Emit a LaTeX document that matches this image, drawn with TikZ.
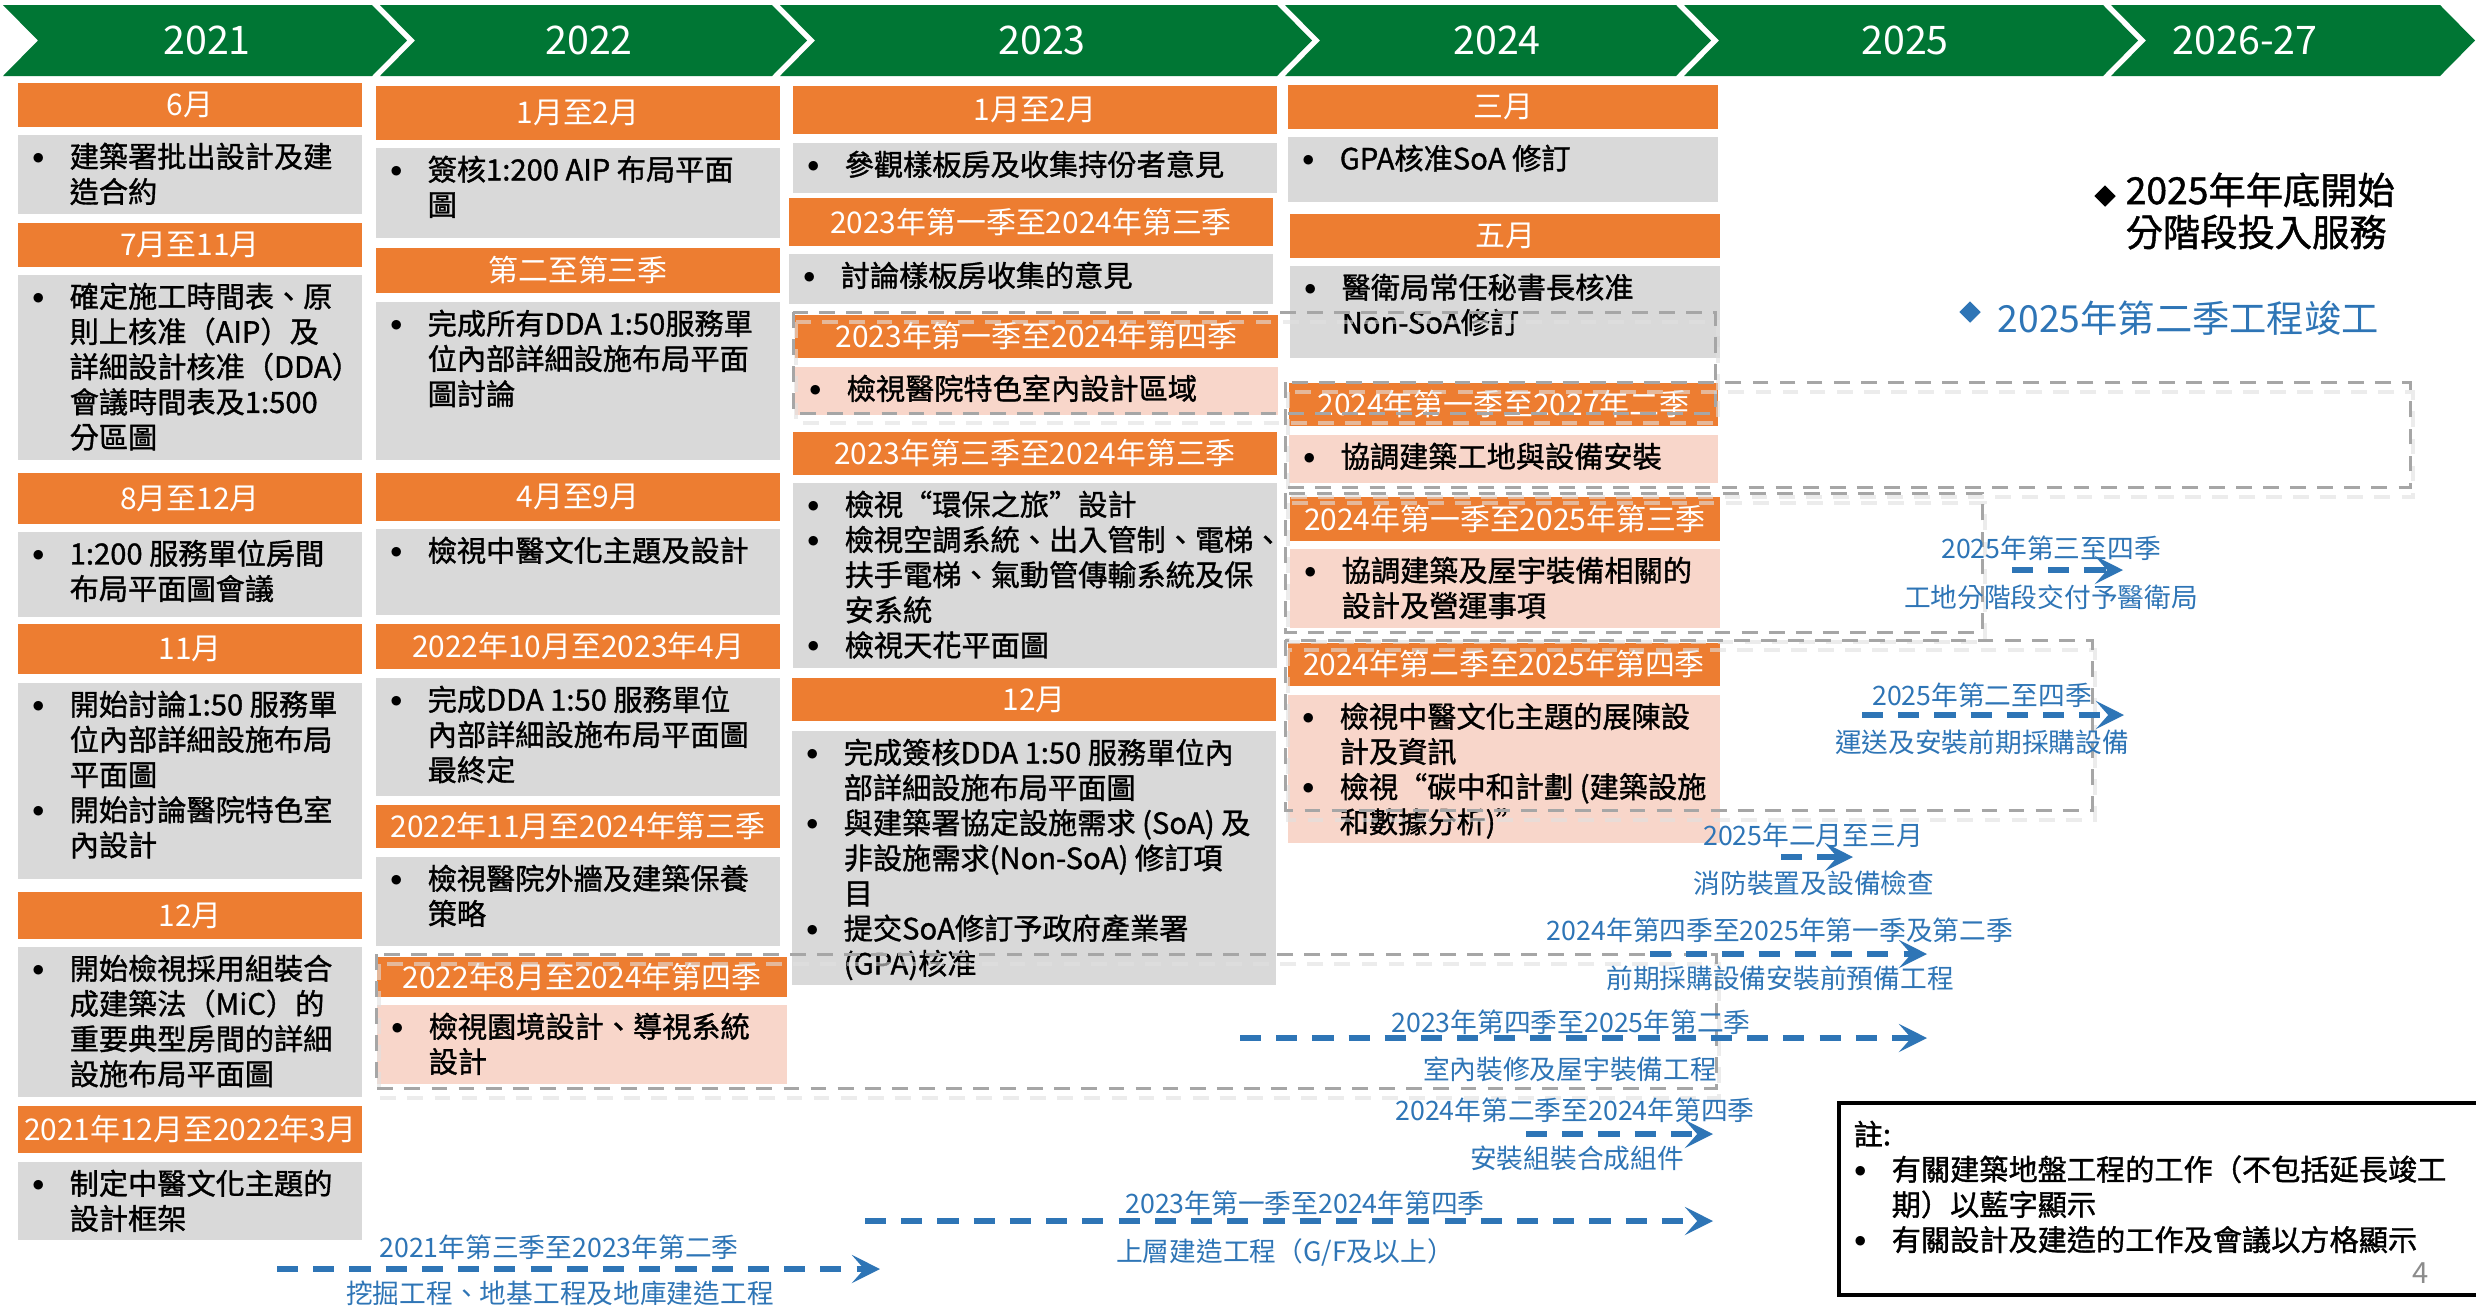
\documentclass[tikz,border=0pt]{standalone}
\usepackage{fontspec}
\setmainfont{Noto Sans CJK TC}
\newfontfamily\bodyfam{Noto Sans CJK TC}[FakeBold=1.2]
\usetikzlibrary{arrows.meta,fit,shapes.geometric}

\definecolor{yrgreen}{RGB}{0,118,52}
\definecolor{hdorange}{RGB}{237,125,49}
\definecolor{pgray}{RGB}{217,217,217}
\definecolor{ppink}{RGB}{248,214,202}
\definecolor{flowblue}{RGB}{46,117,182}
\definecolor{dashgray}{RGB}{166,166,166}

\newcommand{\bxfont}{\bodyfam\fontsize{8.3pt}{10pt}\selectfont}
\newcommand{\hdfont}{\fontsize{8.5pt}{10pt}\selectfont}
\newcommand{\yrfont}{\fontsize{11.2pt}{13pt}\selectfont}
\newcommand{\flfont}{\fontsize{7.6pt}{9pt}\selectfont}
\newcommand{\bigfont}{\bodyfam\fontsize{10.6pt}{12pt}\selectfont}
\newcommand{\bu}{\makebox[0.38cm][l]{\raisebox{1.2pt}{$\scriptstyle\bullet$}}}
\newcommand{\ind}{\hspace*{0.38cm}}
\newcommand{\oq}{\makebox[1em][r]{“}}
\newcommand{\cq}{\makebox[1em][l]{”}}

\begin{document}
\begin{tikzpicture}[x=0.01cm,y=-0.01cm,
  yr/.style={text=white,font=\yrfont,inner sep=0pt},
  hdr/.style={fill=hdorange,inner sep=0pt},
  hdtxt/.style={text=white,font=\hdfont,inner sep=0pt},
  panel/.style={inner sep=0pt},
  bx/.style={anchor=north west,inner sep=0pt,align=left,font=\bxfont},
  dbox/.style={draw=dashgray,line width=0.85pt,dash pattern=on 4.5pt off 3.2pt},
  dshadow/.style={draw=black!12,line width=1.4pt,dash pattern=on 4.5pt off 3.2pt,opacity=.6},
  flow/.style={draw=flowblue,line width=1.7pt,dash pattern=on 6pt off 4.3pt,
    -{Stealth[length=8pt,width=8pt,inset=3.5pt]}},
  fltxt/.style={text=flowblue,font=\flfont,inner sep=0pt}]

\path[use as bounding box,fill=white] (0,0) rectangle (2476,1305);

% year chevrons
\foreach \i/\xl/\xr/\lx/\yr in {1/-1/376/207/2021,2/376/776/589/2022,3/776/1281/1042/2023,
  4/1281/1680/1497/2024,5/1680/2107/1905/2025,6/2107/2444/2245/2026-27}
{
  \fill[yrgreen] (\xl+4,5) -- (\xr-4,5) -- (\xr+31,40.5) -- (\xr-4,76) -- (\xl+4,76) -- (\xl+39,40.5) -- cycle;
  \node[yr] (yr\i) at (\lx,40.5) {\yr};
}

% orange headers
\foreach \n/\xa/\ya/\xb/\yb/\txt in {
  h1a/18/83/362/127/6月, h1b/18/223/362/267/7月至11月, h1c/18/473/362/524/8月至12月,
  h1d/18/624/362/674/11月, h1e/18/892/362/939/12月, h1f/18/1106/362/1153/2021年12月至2022年3月,
  h2a/376/86/780/140/1月至2月, h2b/376/248/780/293/第二至第三季, h2c/376/473/780/521/4月至9月,
  h2d/376/624/780/669/2022年10月至2023年4月, h2e/376/805/780/848/2022年11月至2024年第三季,
  h2f/377/957/787/997/2022年8月至2024年第四季,
  h3a/793/86/1277/134/1月至2月, h3b/789/198/1273/246/2023年第一季至2024年第三季,
  h3c/795/315/1278/358/2023年第一季至2024年第四季, h3d/793/432/1277/475/2023年第三季至2024年第三季,
  h3e/792/678/1276/721/12月,
  h4a/1288/85/1718/129/三月, h4b/1290/214/1720/258/五月, h4c/1289/383/1718/426/2024年第一季至2027年二季,
  h4d/1290/497/1720/541/2024年第一季至2025年第三季, h4e/1288/643/1720/686/2024年第二季至2025年第四季}
{
  \node[hdr,fit={(\xa,\ya) (\xb,\yb)}] (\n) {};
  \node[hdtxt] (l\n) at ({(\xa+\xb)/2},{(\ya+\yb)/2}) {\txt};
}

% grey and pink panels with bullet text
\foreach \n/\col/\xa/\ya/\xb/\yb/\txt in {
  p1a/pgray/18/135/362/214/{\bu 建築署批出設計及建\\\ind 造合約},
  p1b/pgray/18/275/362/460/{\bu 確定施工時間表、原\\\ind 則上核准（AIP）及\\\ind 詳細設計核准（DDA）\\\ind 會議時間表及1:500\\\ind 分區圖},
  p1c/pgray/18/532/362/617/{\bu 1:200 服務單位房間\\\ind 布局平面圖會議},
  p1d/pgray/18/683/362/879/{\bu 開始討論1:50 服務單\\\ind 位內部詳細設施布局\\\ind 平面圖\\\bu 開始討論醫院特色室\\\ind 內設計},
  p1e/pgray/18/947/362/1097/{\bu 開始檢視採用組裝合\\\ind 成建築法（MiC）的\\\ind 重要典型房間的詳細\\\ind 設施布局平面圖},
  p1f/pgray/18/1162/362/1240/{\bu 制定中醫文化主題的\\\ind 設計框架},
  p2a/pgray/376/148/780/238/{\bu 簽核1:200 AIP 布局平面\\\ind 圖},
  p2b/pgray/376/302/780/460/{\bu 完成所有DDA 1:50服務單\\\ind 位內部詳細設施布局平面\\\ind 圖討論},
  p2c/pgray/376/529/780/615/{\bu 檢視中醫文化主題及設計},
  p2d/pgray/376/678/780/796/{\bu 完成DDA 1:50 服務單位\\\ind 內部詳細設施布局平面圖\\\ind 最終定},
  p2e/pgray/376/857/780/946/{\bu 檢視醫院外牆及建築保養\\\ind 策略},
  p2f/ppink/377/1005/787/1084/{\bu 檢視園境設計、導視系統\\\ind 設計},
  p3a/pgray/793/143/1277/193/{\bu 參觀樣板房及收集持份者意見},
  p3b/pgray/789/254/1273/304/{\bu 討論樣板房收集的意見},
  p3c/ppink/795/367/1278/415/{\bu 檢視醫院特色室內設計區域},
  p3d/pgray/793/483/1277/668/{\bu 檢視\oq 環保之旅\cq 設計\\\bu 檢視空調系統、出入管制、電梯、\\\ind 扶手電梯、氣動管傳輸系統及保\\\ind 安系統\\\bu 檢視天花平面圖},
  p3e/pgray/792/731/1276/985/{\bu 完成簽核DDA 1:50 服務單位內\\\ind 部詳細設施布局平面圖\\\bu 與建築署協定設施需求 (SoA) 及\\\ind 非設施需求(Non-SoA) 修訂項\\\ind 目\\\bu 提交SoA修訂予政府產業署\\\ind (GPA)核准},
  p4a/pgray/1288/137/1718/202/{\bu GPA核准SoA 修訂},
  p4b/pgray/1290/266/1720/358/{\bu 醫衛局常任秘書長核准\\\ind Non-SoA修訂},
  p4c/ppink/1289/435/1718/483/{\bu 協調建築工地與設備安裝},
  p4d/ppink/1290/549/1720/628/{\bu 協調建築及屋宇裝備相關的\\\ind 設計及營運事項},
  p4e/ppink/1288/695/1720/843/{\bu 檢視中醫文化主題的展陳設\\\ind 計及資訊\\\bu 檢視\oq 碳中和計劃 (建築設施\\\ind 和數據分析)\cq}}
{
  \node[panel,fill=\col,fit={(\xa,\ya) (\xb,\yb)}] (\n) {};
  \node[bx] (t\n) at (\xa+13,\ya+7) {\txt};
}

% dashed groups
\foreach \xa/\ya/\xb/\yb in {793/312/1715/413,1285/382/2410/487,1285/493/1982/632,
  1285/640/2092/810,376/954/1716/1088}
{
  \draw[dshadow] (\xa+3,\ya+10) rectangle (\xb+3,\yb+10);
  \draw[dbox] (\xa,\ya) rectangle (\xb,\yb);
}

% site works (blue)
\foreach \i/\xa/\xb/\y/\tx/\ty/\lbup/\bx/\by/\lbdn in {
  1/277/880/1269/559/1247/2021年第三季至2023年第二季/560/1293/挖掘工程、地基工程及地庫建造工程,
  2/865/1713/1221/1305/1203/2023年第一季至2024年第四季/1285/1252/{上層建造工程（G/F及以上）},
  3/1526/1713/1134/1575/1110/2024年第二季至2024年第四季/1577/1158/安裝組裝合成組件,
  4/1240/1927/1038/1571/1022/2023年第四季至2025年第二季/1570/1069/室內裝修及屋宇裝備工程,
  5/1650/1927/954/1780/930/2024年第四季至2025年第一季及第二季/1780/978/前期採購設備安裝前預備工程,
  6/1781/1853/857/1813/835/2025年二月至三月/1814/883/消防裝置及設備檢查,
  7/1862/2124/715/1982/695/2025年第二至四季/1982/742/運送及安裝前期採購設備,
  8/2012/2123/570/2051/548/2025年第三至四季/2051/597/工地分階段交付予醫衛局}
{
  \coordinate (s\i) at (\xa,\y);
  \coordinate (e\i) at (\xb,\y);
  \draw[flow] (s\i) -- (e\i);
  \node[fltxt] (up\i) at (\tx,\ty) {\lbup};
  \node[fltxt] (dn\i) at (\bx,\by) {\lbdn};
}

% milestones
\node[diamond,fill=black,inner sep=0pt,minimum size=0.22cm] (mk1) at (2105,196) {};
\node[anchor=west,align=left,font=\bigfont,inner sep=0pt] (svc) at (2125,211) {2025年年底開始\\分階段投入服務};
\node[diamond,fill=flowblue,inner sep=0pt,minimum size=0.22cm] (mk2) at (1970,312) {};
\node[anchor=west,font=\fontsize{10.6pt}{12pt}\selectfont,text=flowblue,inner sep=0pt] (done) at (1997,318) {2025年第二季工程竣工};

% note
\node[draw,line width=0.9pt,inner sep=0pt,fit={(1839,1103) (2490,1295)}] (notebox) {};
\node[bx] (notetxt) at (1853,1120) {註:\\\bu 有關建築地盤工程的工作（不包括延長竣工\\\ind 期）以藍字顯示\\\bu 有關設計及建造的工作及會議以方格顯示};
\node[text=black!45,font=\fontsize{8.3pt}{10pt}\selectfont,inner sep=0pt] (pgno) at (2421,1273) {4};

\end{tikzpicture}
\end{document}
